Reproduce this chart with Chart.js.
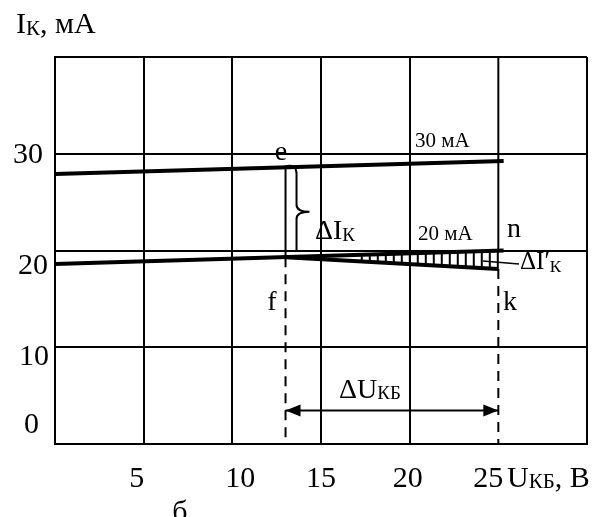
<!DOCTYPE html>
<html><head><meta charset="utf-8">
<script src="https://cdn.jsdelivr.net/npm/chart.js@4"></script>
<style>html,body{margin:0;padding:0;background:#fff}#wrap{width:611px;height:517px;position:relative}</style>
</head><body><div id="wrap"><canvas id="c" width="611" height="517"></canvas></div>
<script>
// Axis ticks: collector–base voltage (В) and collector current (мА)
const uTicks = [0, 5, 10, 15, 20, 25, 30];
const uTickLabels = ['', '5', '10', '15', '20', '25', ''];
const iTicks = [0, 10, 20, 30, 40];
const iTickLabels = ['0', '10', '20', '30', ''];

// Output characteristics for base currents of 30 мА and 20 мА
const curveU = [0, 25.3];
const curve30 = [27.9, 29.25];
const curve20 = [18.6, 20.0];

// Segment f–k (current change at constant base current)
const fkU = [13, 25];
const fkI = [19.3, 18.1];

// Segment e–f (ΔI_К between the two characteristics at U_КБ = 13 В)
const efU = [13, 13];
const efI = [28.6, 19.3];

// ΔU_КБ span drawn as a double arrow
const spanU = [13, 25];
const spanI = 3.45;

// Hatched region between n and k starts here (В)
const hatchFrom = 17.3;

const SERIF = '"Liberation Serif", "Times New Roman", serif';

function pts(xs, ys) { return xs.map((x, i) => ({ x: x, y: ys[i] })); }
function curveAt(u, xs, ys) { return ys[0] + (ys[1] - ys[0]) * (u - xs[0]) / (xs[1] - xs[0]); }

const iAt25 = curveAt(25, curveU, curve20);

const baseLine = { showLine: true, pointRadius: 0, borderColor: '#000', fill: false, tension: 0 };

const datasets = [
  Object.assign({}, baseLine, { data: pts(curveU, curve30), borderWidth: 4 }),
  Object.assign({}, baseLine, { data: pts(curveU, curve20), borderWidth: 4 }),
  Object.assign({}, baseLine, { data: pts(fkU, fkI), borderWidth: 4 }),
  Object.assign({}, baseLine, { data: pts(efU, efI), borderWidth: 2 }),
  Object.assign({}, baseLine, { data: [{ x: fkU[0], y: fkI[0] }, { x: fkU[0], y: 0 }], borderWidth: 2, borderDash: [10, 7] }),
  Object.assign({}, baseLine, { data: [{ x: fkU[1], y: fkI[1] }, { x: fkU[1], y: 0 }], borderWidth: 2, borderDash: [10, 7] }),
  Object.assign({}, baseLine, { data: [{ x: 25, y: 40 }, { x: 25, y: iAt25 }], borderWidth: 2 }),
  Object.assign({}, baseLine, { data: [{ x: spanU[0], y: spanI }, { x: spanU[1], y: spanI }], borderWidth: 2 })
];

// Draws text made of runs (normal + subscript) starting at x, baseline y
function rich(ctx, x, y, runs, align) {
  let total = 0;
  runs.forEach(r => { ctx.font = r.size + 'px ' + SERIF; total += ctx.measureText(r.t).width; });
  let cx = align === 'right' ? x - total : (align === 'center' ? x - total / 2 : x);
  runs.forEach(r => {
    ctx.font = r.size + 'px ' + SERIF;
    ctx.textAlign = 'left';
    ctx.textBaseline = 'alphabetic';
    ctx.fillText(r.t, cx, y + (r.dy || 0));
    cx += ctx.measureText(r.t).width;
  });
}

const annotate = {
  id: 'annotate',
  afterDatasetsDraw(chart) {
    const ctx = chart.ctx;
    const xs = chart.scales.x, ys = chart.scales.y;
    const X = v => xs.getPixelForValue(v), Y = v => ys.getPixelForValue(v);
    ctx.save();
    ctx.fillStyle = '#000';
    ctx.strokeStyle = '#000';

    // hatch between n (20 мА curve) and k line
    ctx.lineWidth = 2;
    ctx.beginPath();
    for (let px = X(hatchFrom); px <= X(fkU[1]) + 0.5; px += 8) {
      const u = xs.getValueForPixel(px);
      ctx.moveTo(px, Y(curveAt(u, curveU, curve20)));
      ctx.lineTo(px, Y(curveAt(u, fkU, fkI)));
    }
    ctx.stroke();

    // brace for ΔI_К
    const xL = X(efU[0]), xB = X(13.62), xT = X(14.35);
    const yTop = Y(efI[0]) - 1, yBot = Y(20.0), yMid = Y(24.0);
    ctx.lineWidth = 2;
    ctx.beginPath();
    ctx.moveTo(xL, yTop);
    ctx.quadraticCurveTo(xB, yTop - 3, xB, yTop + 8);
    ctx.lineTo(xB, yMid - 7);
    ctx.quadraticCurveTo(xB, yMid, xT, yMid);
    ctx.moveTo(xT, yMid);
    ctx.quadraticCurveTo(xB, yMid, xB, yMid + 7);
    ctx.lineTo(xB, yBot);
    ctx.stroke();

    // arrowheads of ΔU_КБ
    const ay = Y(spanI), a0 = X(spanU[0]), a1 = X(spanU[1]);
    ctx.beginPath();
    ctx.moveTo(a0, ay); ctx.lineTo(a0 + 15, ay - 6); ctx.lineTo(a0 + 15, ay + 6); ctx.closePath();
    ctx.moveTo(a1, ay); ctx.lineTo(a1 - 15, ay - 6); ctx.lineTo(a1 - 15, ay + 6); ctx.closePath();
    ctx.fill();

    // leader for ΔI'_К
    ctx.lineWidth = 1.5;
    ctx.beginPath();
    ctx.moveTo(483, 261); ctx.lineTo(519, 264);
    ctx.stroke();

    // y tick labels
    const yOff = [-11, 18, 23, 9, 0];
    const yRight = [39, 49, 48, 43, 48];
    iTicks.forEach((v, i) => {
      if (!iTickLabels[i]) return;
      rich(ctx, yRight[i], Y(v) + yOff[i], [{ t: iTickLabels[i], size: 30 }], 'right');
    });
    // x tick labels
    const xOff = [0, -7, 8, 0, -2, -10, 0];
    uTicks.forEach((v, i) => {
      if (!uTickLabels[i]) return;
      rich(ctx, X(v) + xOff[i], 487, [{ t: uTickLabels[i], size: 30 }], 'center');
    });
    // axis titles
    rich(ctx, 507, 487, [{ t: 'U', size: 30 }, { t: 'КБ', size: 21, dy: 1 }, { t: ', В', size: 30 }]);
    rich(ctx, 16, 33, [{ t: 'I', size: 30 }, { t: 'К', size: 21, dy: 2 }, { t: ', мА', size: 30 }]);
    rich(ctx, 180, 521, [{ t: 'б', size: 30 }], 'center');

    // point and curve labels
    rich(ctx, 281, 160, [{ t: 'e', size: 28 }], 'center');
    rich(ctx, 272, 310, [{ t: 'f', size: 28 }], 'center');
    rich(ctx, 510, 310, [{ t: 'k', size: 28 }], 'center');
    rich(ctx, 514, 237, [{ t: 'n', size: 28 }], 'center');
    rich(ctx, 415, 147, [{ t: '30 мА', size: 21 }]);
    rich(ctx, 418, 240, [{ t: '20 мА', size: 21 }]);
    rich(ctx, 315, 239, [{ t: 'ΔI', size: 28 }, { t: 'К', size: 19, dy: 2 }]);
    rich(ctx, 520, 269, [{ t: 'ΔI′', size: 25 }, { t: 'К', size: 17, dy: 3 }]);
    rich(ctx, 339, 398, [{ t: 'ΔU', size: 28 }, { t: 'КБ', size: 19, dy: 1 }]);

    ctx.restore();
  }
};

new Chart(document.getElementById('c'), {
  type: 'scatter',
  data: { datasets: datasets },
  options: {
    responsive: false,
    animation: false,
    events: [],
    layout: { padding: { left: 55, right: 24, top: 57, bottom: 73 } },
    plugins: { legend: { display: false }, tooltip: { enabled: false } },
    scales: {
      x: {
        type: 'linear', min: 0, max: 30,
        afterBuildTicks: s => { s.ticks = uTicks.map(v => ({ value: v })); },
        ticks: { display: false },
        grid: {
          drawTicks: false, lineWidth: 2,
          color: c => (c.tick && c.tick.value === 25 ? 'rgba(0,0,0,0)' : '#000')
        },
        border: { display: true, color: '#000', width: 2 }
      },
      y: {
        type: 'linear', min: 0, max: 40,
        afterBuildTicks: s => { s.ticks = iTicks.map(v => ({ value: v })); },
        ticks: { display: false },
        grid: { drawTicks: false, lineWidth: 2, color: '#000' },
        border: { display: true, color: '#000', width: 2 }
      }
    }
  },
  plugins: [annotate]
});
</script>
</body></html>
